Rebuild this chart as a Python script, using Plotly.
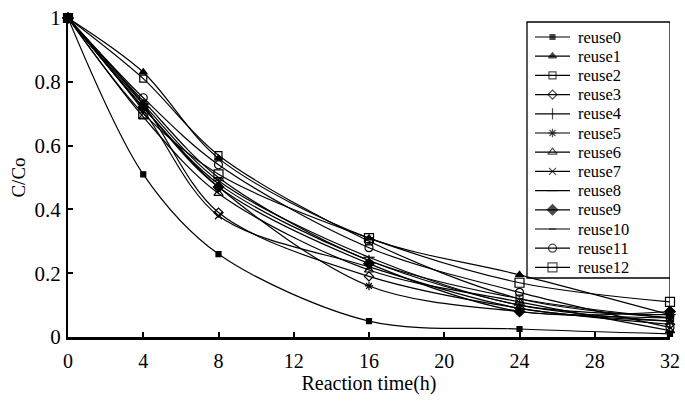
import plotly.graph_objects as go

time_h = [0, 4, 8, 16, 24, 32]

reuse0 = [1, 0.51, 0.26, 0.05, 0.025, 0.01]
reuse1 = [1, 0.83, 0.56, 0.31, 0.195, 0.07]
reuse2 = [1, 0.81, 0.57, 0.30, 0.12, 0.06]
reuse3 = [1, 0.73, 0.39, 0.19, 0.09, 0.04]
reuse4 = [1, 0.72, 0.48, 0.24, 0.10, 0.05]
reuse5 = [1, 0.72, 0.47, 0.16, 0.08, 0.06]
reuse6 = [1, 0.69, 0.45, 0.21, 0.11, 0.02]
reuse7 = [1, 0.71, 0.38, 0.22, 0.09, 0.05]
reuse8 = [1, 0.73, 0.49, 0.25, 0.10, 0.07]
reuse9 = [1, 0.72, 0.47, 0.23, 0.08, 0.08]
reuse10 = [1, 0.74, 0.50, 0.24, 0.12, 0.06]
reuse11 = [1, 0.75, 0.54, 0.28, 0.14, 0.03]
reuse12 = [1, 0.70, 0.51, 0.31, 0.17, 0.11]

x_ticks = [0, 4, 8, 12, 16, 20, 24, 28, 32]
y_ticks = [0, 0.2, 0.4, 0.6, 0.8, 1]

names = ["reuse0", "reuse1", "reuse2", "reuse3", "reuse4", "reuse5", "reuse6",
         "reuse7", "reuse8", "reuse9", "reuse10", "reuse11", "reuse12"]
series = [reuse0, reuse1, reuse2, reuse3, reuse4, reuse5, reuse6,
          reuse7, reuse8, reuse9, reuse10, reuse11, reuse12]

styles = [
    dict(symbol="square", size=5),
    dict(symbol="triangle-up", size=7),
    dict(symbol="square-open", size=7),
    dict(symbol="diamond-open", size=7),
    dict(symbol="line-ns-open", size=8),
    dict(symbol="asterisk-open", size=7),
    dict(symbol="triangle-up-open", size=8),
    dict(symbol="x-thin-open", size=7),
    dict(symbol="line-ew-open", size=8),
    dict(symbol="diamond", size=8),
    dict(symbol="line-ew-open", size=5),
    dict(symbol="circle-open", size=8),
    dict(symbol="square-open", size=9),
]

font_family = "Liberation Serif, Times New Roman, serif"

fig = go.Figure()
for name, ys, st in zip(names, series, styles):
    fig.add_trace(go.Scatter(
        x=time_h, y=ys, name=name, mode="lines+markers",
        line=dict(color="black", width=1.2, shape="spline", smoothing=0.9),
        marker=dict(symbol=st["symbol"], size=st["size"], color="black",
                    line=dict(color="black", width=1.2)),
        cliponaxis=False, showlegend=False,
    ))

# ---- legend (drawn on an overlay axis measured in pixels) ----
LEG_LEFT, LEG_RIGHT, LEG_TOP, LEG_BOTTOM = 527, 670, 22, 278
ROW0, ROW_STEP = 37, 19.2
SAMPLE_X0, SAMPLE_X1, TEXT_X = 535, 570, 576

fig.add_shape(type="rect", xref="x2", yref="y2",
              x0=LEG_LEFT, x1=LEG_RIGHT, y0=LEG_TOP, y1=LEG_BOTTOM,
              line=dict(color="black", width=1.3), fillcolor="white",
              layer="below")
fig.add_shape(type="line", xref="x2", yref="y2",
              x0=LEG_RIGHT, x1=LEG_RIGHT, y0=LEG_BOTTOM, y1=337,
              line=dict(color="black", width=1.3))
for i, (name, st) in enumerate(zip(names, styles)):
    row_y = ROW0 + ROW_STEP * i
    mid = (SAMPLE_X0 + SAMPLE_X1) / 2
    fig.add_trace(go.Scatter(
        x=[SAMPLE_X0, mid, SAMPLE_X1], y=[row_y, row_y, row_y],
        xaxis="x2", yaxis="y2", mode="lines+markers", showlegend=False,
        hoverinfo="skip",
        line=dict(color="black", width=1.2),
        marker=dict(symbol=st["symbol"], size=[0, st["size"], 0], color="black",
                    line=dict(color="black", width=1.2)),
        cliponaxis=False,
    ))
    fig.add_annotation(x=TEXT_X, y=row_y, xref="x2", yref="y2", text=name,
                       showarrow=False, xanchor="left", yanchor="middle",
                       font=dict(family=font_family, size=16.5, color="black"))

fig.update_layout(
    width=685, height=407,
    margin=dict(l=68, r=15, t=18, b=70),
    paper_bgcolor="white", plot_bgcolor="white",
    font=dict(family=font_family, size=19, color="black"),
    showlegend=False,
    xaxis=dict(
        range=[0, 32], tickvals=x_ticks,
        showgrid=False, zeroline=False, automargin=False,
        showline=True, linecolor="black", linewidth=2.5,
        ticks="inside", ticklen=5, tickwidth=1.5, tickcolor="black",
        ticklabelstandoff=4,
        title=dict(text="Reaction time(h)", standoff=6,
                   font=dict(family=font_family, size=20)),
        tickfont=dict(family=font_family, size=20),
    ),
    yaxis=dict(
        range=[0, 1], tickvals=y_ticks,
        showgrid=False, zeroline=False, automargin=False,
        showline=True, linecolor="black", linewidth=2,
        ticks="inside", ticklen=5, tickwidth=1.5, tickcolor="black",
        ticklabelstandoff=1,
        title=dict(text="C/Co", standoff=4,
                   font=dict(family=font_family, size=19)),
        tickfont=dict(family=font_family, size=21),
    ),
    xaxis2=dict(domain=[0, 1], range=[68, 670], anchor="y2", overlaying="x",
                visible=False, fixedrange=True),
    yaxis2=dict(domain=[0, 1], range=[337, 18], anchor="x2", overlaying="y",
                visible=False, fixedrange=True),
)

fig.write_html(
    "out.html",
    config={"displayModeBar": False},
    post_script="document.body.style.margin='0px';document.body.style.overflow='hidden';",
)
